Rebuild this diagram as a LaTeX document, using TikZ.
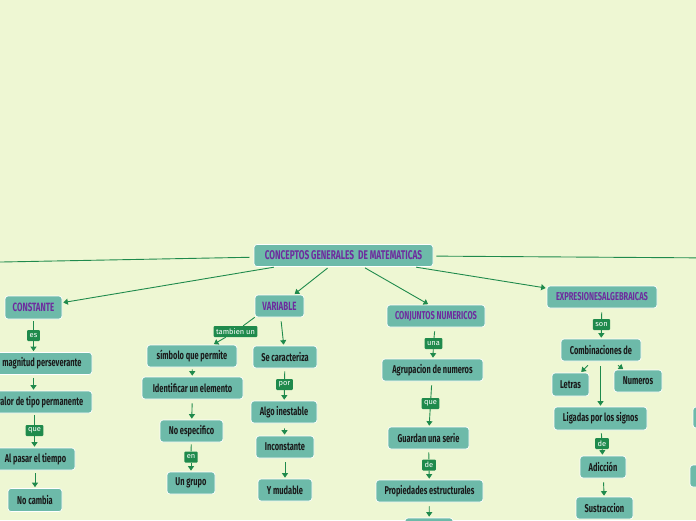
\documentclass[tikz,border=0pt]{standalone}
\usepackage{fontspec}
\setmainfont{Fira Sans}[FakeStretch=0.66]
\newfontfamily\labfont{Fira Sans}
\usetikzlibrary{arrows.meta}
\definecolor{bgc}{HTML}{EEF7D3}
\definecolor{boxc}{HTML}{6DBAA9}
\definecolor{purp}{HTML}{6E2C9E}
\definecolor{lgreen}{HTML}{1F8A4C}
\definecolor{txt}{HTML}{1A1A1A}
\tikzset{
 box/.style={rectangle, rounded corners=3pt, fill=boxc, draw=white, line width=0.7pt, text=txt,
   font=\bfseries\fontsize{11.3}{12}\selectfont, inner sep=0pt, minimum height=22pt},
 mainbox/.style={box, text=purp, font=\bfseries\fontsize{12}{12}\selectfont},
 smallmain/.style={mainbox, font=\bfseries\fontsize{11.4}{12}\selectfont},
 lab/.style={rectangle, rounded corners=1pt, fill=lgreen, text=white,
   font=\labfont\fontsize{7.5}{8}\selectfont, inner xsep=2.5pt, inner ysep=0pt, minimum height=11pt},
 conn/.style={draw=lgreen, line width=0.9pt, -{Triangle[width=6pt,length=4.5pt]}, shorten <=2pt, shorten >=1pt},
 seg/.style={draw=lgreen, line width=0.9pt, shorten <=2pt},
}
\begin{document}
\begin{tikzpicture}[x=1pt,y=-1pt]
\fill[bgc] (0,0) rectangle (696,520);
\useasboundingbox (0,0) rectangle (696,520);
% main nodes
\node[mainbox, minimum width=179pt, font=\bfseries\fontsize{12.6}{12}\selectfont] (root) at (343.5,255.5) {CONCEPTOS GENERALES\hspace{2pt} DE MATEMATICAS};
\node[mainbox, minimum width=57pt, minimum height=23pt] (cons) at (33.5,307.5) {CONSTANTE};
\node[mainbox, minimum width=49pt] (var) at (279.5,306) {VARIABLE};
\node[smallmain, minimum width=98pt] (conj) at (436,316) {CONJUNTOS NUMERICOS};
\node[smallmain, minimum width=110pt] (expr) at (602,297) {EXPRESIONESALGEBRAICAS};
% constante branch
\node[box, minimum width=100pt] (magn) at (42,363.5) {magnitud perseverante};
\node[box, minimum width=104pt] (valor) at (40,402) {valor de tipo permanente};
\node[box, minimum width=79pt] (alp) at (35.5,459) {Al pasar el tiempo};
\node[box, minimum width=54pt, minimum height=23pt] (nocam) at (35,500) {No cambia};
% variable branch
\node[box, minimum width=90pt] (simb) at (192,356) {símbolo que permite};
\node[box, minimum width=101pt] (ident) at (192.5,388) {Identificar un elemento};
\node[box, minimum width=63pt] (noesp) at (191.5,431) {No especifico};
\node[box, minimum width=48pt] (ungr) at (191,483) {Un grupo};
\node[box, minimum width=64pt] (secar) at (285,357) {Se caracteriza};
\node[box, minimum width=66pt] (algo) at (284,412) {Algo inestable};
\node[box, minimum width=58pt] (incon) at (285,447) {Inconstante};
\node[box, minimum width=54pt] (ymud) at (285,490) {Y mudable};
% conjuntos branch
\node[box, minimum width=101pt] (agrup) at (432.5,370) {Agrupacion de numeros};
\node[box, minimum width=81pt] (guard) at (428.5,438) {Guardan una serie};
\node[box, minimum width=107pt] (prop) at (429.5,491) {Propiedades estructurales};
\node[box, minimum width=48pt] (nextc) at (429,529) {};
% expresiones branch
\node[box, minimum width=80pt] (comb) at (601,350) {Combinaciones de};
\node[box, minimum width=37pt, minimum height=23pt] (letr) at (570.5,384.5) {Letras};
\node[box, minimum width=48pt] (numr) at (638,381) {Numeros};
\node[box, minimum width=93pt, minimum height=23pt] (liga) at (600.5,418.5) {Ligadas por los signos};
\node[box, minimum width=46pt] (adic) at (603,467) {Adicción};
\node[box, minimum width=57pt] (sustr) at (604.5,508) {Sustraccion};
% partial boxes at right edge
\node[box, minimum width=40pt, minimum height=21pt] (edge1) at (713,417.5) {};
\node[box, minimum width=40pt] (edge2) at (710,476) {};
% labels
\node[lab] (es) at (33.5,335.5) {es};
\node[lab] (que1) at (34.5,430.5) {que};
\node[lab] (tamb) at (235.5,331.5) {tambien un};
\node[lab] (en) at (191,457) {en};
\node[lab] (por) at (284.5,384.5) {por};
\node[lab] (una) at (433.5,343.5) {una};
\node[lab] (que2) at (430.5,403.5) {que};
\node[lab] (de1) at (429,465) {de};
\node[lab] (son) at (601.5,324.5) {son};
\node[lab] (de2) at (602,443.5) {de};
% off-frame ends
\coordinate (offL) at (-30,262.6);
\coordinate (offR) at (720,258);
% top connectors
\draw[seg, shorten <=4pt] (root) -- (offL);
\draw[seg, shorten <=3pt] (root) -- (offR);
\draw[conn] (root) -- (cons);
\draw[conn] (root) -- (var);
\draw[conn] (root) -- ([xshift=-7pt]conj.north);
\draw[conn] (root) -- (expr);
% constante branch
\draw[seg] (cons) -- (es);
\draw[conn, shorten <=0pt] (es) -- (es |- magn.north);
\draw[conn, shorten <=3pt] (magn.south -| cons) -- (valor.north -| cons);
\draw[seg] (valor.south -| que1) -- (que1);
\draw[conn, shorten <=0pt] (que1) -- (que1 |- alp.north);
\draw[conn, shorten <=3pt] (alp.south -| nocam) -- (nocam);
% variable branch
\draw[seg, shorten <=0pt] (var.south west) -- (tamb);
\draw[conn, shorten <=0pt] (tamb) -- ([xshift=21pt]simb.north);
\draw[conn] (simb) -- (ident);
\draw[conn, shorten <=4pt] (ident) -- (noesp);
\draw[seg] (noesp) -- (en);
\draw[conn, shorten <=0pt] (en) -- (ungr);
\draw[conn, shorten <=4pt] (var) -- (secar);
\draw[seg, shorten <=3pt] (secar) -- (por);
\draw[conn, shorten <=0pt] (por) -- (algo);
\draw[conn, shorten <=5pt] (algo) -- (incon);
\draw[conn, shorten <=4pt] (incon) -- (ymud);
% conjuntos branch
\draw[seg, shorten <=4pt] (conj) -- (una);
\draw[conn, shorten <=0pt] (una) -- (agrup);
\draw[seg, shorten <=4pt] (agrup) -- (que2);
\draw[conn, shorten <=0pt] (que2) -- (guard);
\draw[seg, shorten <=3pt] (guard) -- (de1);
\draw[conn, shorten <=0pt] (de1) -- (prop);
\draw[conn, shorten <=4pt] (prop) -- (nextc);
% expresiones branch
\draw[seg, shorten <=4pt] (expr) -- (son);
\draw[conn, shorten <=0pt] (son) -- (comb);
\draw[conn, shorten <=0pt] ([xshift=-13pt,yshift=-4pt]comb.south) -- ([xshift=10pt]letr.north);
\draw[conn, shorten <=0pt] ([xshift=17pt,yshift=-4pt]comb.south) -- ([xshift=-14pt]numr.north);
\draw[conn, shorten <=5pt] (comb.south -| liga) -- (liga);
\draw[seg, shorten <=3pt] (liga) -- (de2);
\draw[conn, shorten <=0pt] (de2) -- (adic);
\draw[conn, shorten <=4pt] (adic) -- (sustr);
\end{tikzpicture}
\end{document}
